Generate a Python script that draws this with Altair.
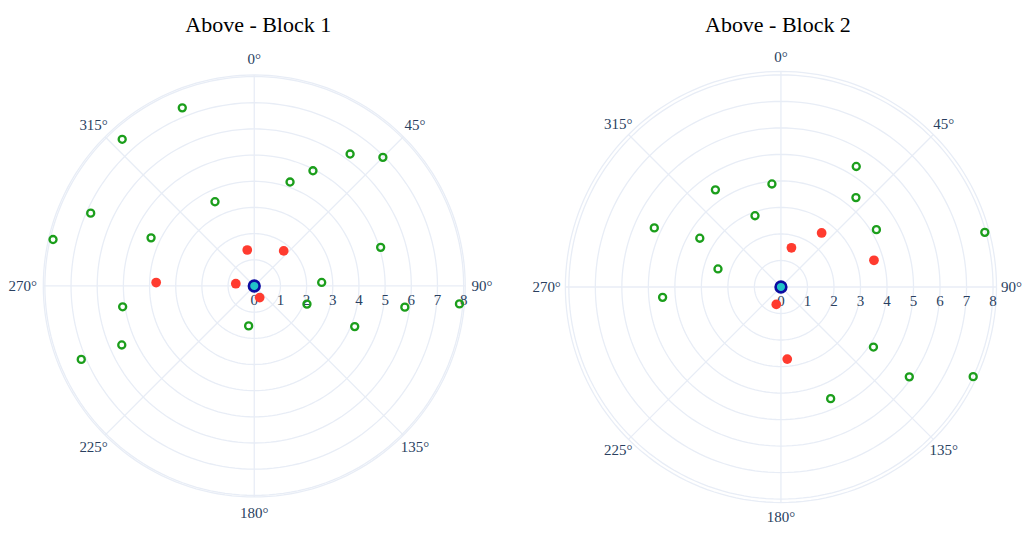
import altair as alt
import numpy as np
import pandas as pd

# ---- measurements (radius, bearing in degrees clockwise from north) ----
block1_open_r = [7.34, 7.54, 6.23, 6.95, 4.94, 4.20, 3.55, 6.84, 7.89, 4.35,
                 5.05, 2.58, 5.09, 2.13, 5.81, 7.87, 1.54, 4.14, 5.54, 7.18]
block1_open_theta = [338, 318, 36, 45, 27, 19, 335, 294, 283, 295,
                     73, 87, 261, 109, 98, 95, 188, 112, 246, 247]
block1_fill_r = [1.40, 1.75, 3.75, 0.71, 0.49]
block1_fill_theta = [349, 40, 272, 277, 155]

block2_open_r = [5.36, 3.90, 4.42, 4.40, 2.86, 5.27, 4.20, 7.96, 3.57, 2.47,
                 4.48, 4.16, 5.91, 8.00, 4.61]
block2_open_theta = [32, 355, 326, 40, 340, 295, 59, 75, 301, 286,
                     265, 123, 125, 115, 156]
block2_fill_r = [2.55, 1.53, 3.65, 0.68, 2.73]
block2_fill_theta = [37, 15, 74, 195, 175]

origin_r = [0]
origin_theta = [0]

radial_ticks = [0, 1, 2, 3, 4, 5, 6, 7, 8]
angular_ticks = [0, 45, 90, 135, 180, 225, 270, 315]
angular_tick_labels = ["0°", "45°", "90°", "135°", "180°", "225°", "270°", "315°"]

TEXT_FONT = "Liberation Serif"
TICK_COLOR = "#2a3f5f"
GRID_COLOR = "#E8EDF6"

POLAR_TO_XY = dict(
    x="datum.r * sin(datum.theta * PI / 180)",
    y="datum.r * cos(datum.theta * PI / 180)",
)


def polar_panel(title, title_dx, open_r, open_t, fill_r, fill_t, edge,
                xdom, ydom, width, height):
    sx = alt.Scale(domain=xdom, nice=False, zero=False)
    sy = alt.Scale(domain=ydom, nice=False, zero=False)
    X = alt.X("x:Q", scale=sx, axis=None)
    Y = alt.Y("y:Q", scale=sy, axis=None)

    # concentric grid circles, traced as closed paths
    ring_values = radial_ticks[1:] + [edge]
    sweep = np.arange(0, 361, 2)
    rings = pd.DataFrame(
        [(i, rv, a) for i, rv in enumerate(ring_values) for a in sweep],
        columns=["ring", "r", "theta"],
    )
    ring_layer = (
        alt.Chart(rings)
        .mark_line(stroke=GRID_COLOR, strokeWidth=1.3)
        .transform_calculate(**POLAR_TO_XY)
        .encode(x=X, y=Y, detail="ring:N", order="theta:Q")
    )

    # angular grid spokes
    spokes = pd.DataFrame({"theta": angular_ticks})
    spoke_layer = (
        alt.Chart(spokes)
        .mark_rule(stroke=GRID_COLOR, strokeWidth=1.3)
        .transform_calculate(r=str(edge), x0="0", y0="0")
        .transform_calculate(**POLAR_TO_XY)
        .encode(
            x=alt.X("x0:Q", scale=sx, axis=None),
            y=alt.Y("y0:Q", scale=sy, axis=None),
            x2="x:Q",
            y2="y:Q",
        )
    )

    # radial tick labels along the 90° spoke
    rticks = pd.DataFrame({"r": radial_ticks, "label": [str(v) for v in radial_ticks]})
    rtick_layer = (
        alt.Chart(rticks)
        .mark_text(font=TEXT_FONT, fontSize=15, color=TICK_COLOR, dy=14,
                   align="center", baseline="middle")
        .transform_calculate(theta="90")
        .transform_calculate(**POLAR_TO_XY)
        .encode(x=X, y=Y, text="label:N")
    )

    # angular tick labels around the rim
    aticks = pd.DataFrame({"theta": angular_ticks, "label": angular_tick_labels})
    atick_mid = (
        alt.Chart(aticks)
        .mark_text(font=TEXT_FONT, fontSize=15, color=TICK_COLOR,
                   align="center", baseline="middle")
        .transform_filter("datum.theta != 90 && datum.theta != 270")
        .transform_calculate(r="8.68")
        .transform_calculate(**POLAR_TO_XY)
        .encode(x=X, y=Y, text="label:N")
    )
    atick_east = (
        alt.Chart(aticks)
        .mark_text(font=TEXT_FONT, fontSize=15, color=TICK_COLOR,
                   align="left", baseline="middle")
        .transform_filter("datum.theta == 90")
        .transform_calculate(r="8.3")
        .transform_calculate(**POLAR_TO_XY)
        .encode(x=X, y=Y, text="label:N")
    )
    atick_west = (
        alt.Chart(aticks)
        .mark_text(font=TEXT_FONT, fontSize=15, color=TICK_COLOR,
                   align="right", baseline="middle")
        .transform_filter("datum.theta == 270")
        .transform_calculate(r="8.3")
        .transform_calculate(**POLAR_TO_XY)
        .encode(x=X, y=Y, text="label:N")
    )

    open_layer = (
        alt.Chart(pd.DataFrame({"r": open_r, "theta": open_t}))
        .mark_point(shape="circle", filled=False, stroke="#1b9e1b",
                    strokeWidth=2.3, size=50, opacity=1)
        .transform_calculate(**POLAR_TO_XY)
        .encode(x=X, y=Y)
    )
    fill_layer = (
        alt.Chart(pd.DataFrame({"r": fill_r, "theta": fill_t}))
        .mark_point(shape="circle", filled=True, fill="#ff3b2f",
                    strokeWidth=0, size=95, opacity=1)
        .transform_calculate(**POLAR_TO_XY)
        .encode(x=X, y=Y)
    )
    origin_layer = (
        alt.Chart(pd.DataFrame({"r": origin_r, "theta": origin_theta}))
        .mark_point(shape="circle", filled=True, fill="#22c4c8",
                    stroke="#0c0ca0", strokeWidth=2.6, size=115, opacity=1)
        .transform_calculate(**POLAR_TO_XY)
        .encode(x=X, y=Y)
    )

    return alt.layer(
        ring_layer, spoke_layer, rtick_layer, atick_mid, atick_east, atick_west,
        open_layer, fill_layer, origin_layer,
    ).properties(
        width=width,
        height=height,
        title=alt.TitleParams(
            title, font=TEXT_FONT, fontSize=22, fontWeight="normal",
            color="black", anchor="middle", baseline="alphabetic",
            offset=-8, dx=title_dx,
        ),
    )


left = polar_panel(
    "Above - Block 1", 4,
    block1_open_r, block1_open_theta, block1_fill_r, block1_fill_theta,
    edge=8.06, xdom=[-9.523, 9.523], ydom=[-9.275, 9.16],
    width=499, height=483,
)
right = polar_panel(
    "Above - Block 2", -3,
    block2_open_r, block2_open_theta, block2_fill_r, block2_fill_theta,
    edge=8.13, xdom=[-9.231, 9.231], ydom=[-9.118, 9.081],
    width=490, height=483,
)

chart = (
    alt.hconcat(left, right, spacing=28.7)
    .properties(padding={"left": 5, "top": 14, "right": 0, "bottom": 0},
                background="white")
    .configure_view(stroke=None)
)

chart.save("out.html", embed_options={"renderer": "svg", "actions": False})
